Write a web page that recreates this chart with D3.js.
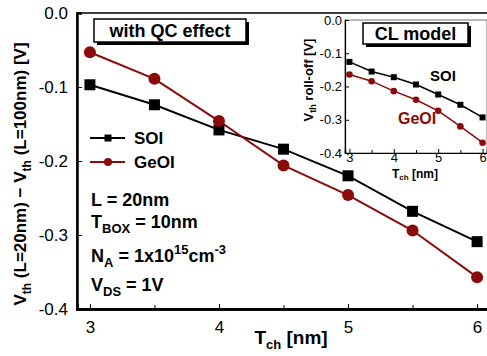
<!DOCTYPE html>
<html>
<head>
<meta charset="utf-8">
<script src="https://cdn.jsdelivr.net/npm/d3@7"></script>
<style>
  html, body { margin: 0; padding: 0; background: #fff; }
  svg { display: block; font-family: "Liberation Sans", Arial, sans-serif; }
</style>
</head>
<body>
<div id="chart"></div>
<script>
// channel thickness values
const tch = [3, 3.5, 4, 4.5, 5, 5.5, 6];

// main plot: with QC effect
const soiQC = [-0.097, -0.124, -0.158, -0.184, -0.220, -0.268, -0.309];
const geoiQC = [-0.053, -0.089, -0.146, -0.206, -0.246, -0.294, -0.357];

// inset: CL model
const soiCL = [-0.126, -0.155, -0.172, -0.194, -0.224, -0.255, -0.293];
const geoiCL = [-0.164, -0.184, -0.214, -0.240, -0.273, -0.320, -0.369];

const xTicks = [3, 4, 5, 6];
const xMinorTicks = [3.5, 4.5, 5.5];
const yTicks = [0, -0.1, -0.2, -0.3, -0.4];

const RED = '#8b0a0a';
const W = 487, H = 356;

// plain hyphen, like the original figure
const yFmt = d => d3.format('.1f')(d).replace('\u2212', '-');

const svg = d3.select('#chart').append('svg')
  .attr('width', W)
  .attr('height', H);

// ---------- main plot ----------
const x = d3.scaleLinear().domain([2.9, 6.1]).range([77, 490]);
const y = d3.scaleLinear().domain([-0.4, 0]).range([309, 13]);

// frame
svg.append('rect')
  .attr('x', x(2.9)).attr('y', y(0))
  .attr('width', x(6.1) - x(2.9)).attr('height', y(-0.4) - y(0))
  .attr('fill', 'none').attr('stroke', '#000').attr('stroke-width', 1.5);

const xAxis = svg.append('g')
  .attr('transform', `translate(0,${y(-0.4)})`)
  .call(d3.axisBottom(x).tickValues(xTicks).tickSize(-5).tickPadding(12).tickFormat(d3.format('d')));
xAxis.append('g').call(d3.axisBottom(x).tickValues(xMinorTicks).tickSize(-4).tickFormat(''));
xAxis.selectAll('.domain').attr('stroke-width', 2.5);

const yAxis = svg.append('g')
  .attr('transform', `translate(${x(2.9)},0)`)
  .call(d3.axisLeft(y).tickValues(yTicks).tickSize(-5).tickPadding(9).tickFormat(yFmt));
yAxis.selectAll('.domain').attr('stroke-width', 2.5);

svg.selectAll('.tick text')
  .attr('font-size', 17)
  .attr('font-family', '"Liberation Sans", Arial, sans-serif')
  .attr('fill', '#000');
svg.selectAll('.tick line').attr('stroke', '#000').attr('stroke-width', 1);

// axis titles
const xt = svg.append('text')
  .attr('x', 291).attr('y', 344)
  .attr('text-anchor', 'middle')
  .attr('font-size', 19).attr('font-weight', 'bold');
xt.append('tspan').text('T');
xt.append('tspan').attr('font-size', 13).attr('dy', 5).text('ch');
xt.append('tspan').attr('dy', -5).text(' [nm]');

const yt = svg.append('text')
  .attr('transform', `translate(26,${174}) rotate(-90)`)
  .attr('text-anchor', 'middle')
  .attr('font-size', 17).attr('font-weight', 'bold');
yt.append('tspan').text('V');
yt.append('tspan').attr('font-size', 12).attr('dy', 5).text('th');
yt.append('tspan').attr('dy', -5).text(' (L=20nm) \u2212 V');
yt.append('tspan').attr('font-size', 12).attr('dy', 5).text('th');
yt.append('tspan').attr('dy', -5).text(' (L=100nm) [V]');

// series
const line = d3.line().x((d, i) => x(tch[i])).y(d => y(d));
const mainG = svg.append('g');

mainG.append('path').datum(soiQC)
  .attr('d', line).attr('fill', 'none').attr('stroke', '#000').attr('stroke-width', 2);
mainG.append('path').datum(geoiQC)
  .attr('d', line).attr('fill', 'none').attr('stroke', RED).attr('stroke-width', 2);

mainG.selectAll('rect.soi').data(soiQC).enter().append('rect')
  .attr('class', 'soi')
  .attr('x', (d, i) => x(tch[i]) - 5.5).attr('y', d => y(d) - 5.5)
  .attr('width', 11).attr('height', 11).attr('fill', '#000');
mainG.selectAll('circle.geoi').data(geoiQC).enter().append('circle')
  .attr('class', 'geoi')
  .attr('cx', (d, i) => x(tch[i])).attr('cy', d => y(d))
  .attr('r', 6).attr('fill', RED);

// legend
const legend = svg.append('g');
[['SOI', '#000', 138, 'sq'], ['GeOI', RED, 162, 'ci']].forEach(([name, col, ly, m]) => {
  legend.append('line').attr('x1', 90).attr('x2', 125).attr('y1', ly).attr('y2', ly)
    .attr('stroke', col).attr('stroke-width', 2);
  if (m === 'sq') {
    legend.append('rect').attr('x', 104.5).attr('y', ly - 3.5).attr('width', 7).attr('height', 7).attr('fill', col);
  } else {
    legend.append('circle').attr('cx', 108).attr('cy', ly).attr('r', 4).attr('fill', col);
  }
  legend.append('text').attr('x', 134).attr('y', ly + 6)
    .attr('font-size', 17).attr('font-weight', 'bold').attr('fill', '#000').text(name);
});

// parameter annotations
const ann = svg.append('g').attr('font-size', 18).attr('font-weight', 'bold');
ann.append('text').attr('x', 91).attr('y', 206).text('L = 20nm');
const t2 = ann.append('text').attr('x', 91).attr('y', 228);
t2.append('tspan').text('T');
t2.append('tspan').attr('font-size', 13).attr('dy', 5).text('BOX');
t2.append('tspan').attr('dy', -5).text(' = 10nm');
const t3 = ann.append('text').attr('x', 91).attr('y', 262);
t3.append('tspan').text('N');
t3.append('tspan').attr('font-size', 13).attr('dy', 5).text('A');
t3.append('tspan').attr('dy', -5).text(' = 1x10');
t3.append('tspan').attr('font-size', 13).attr('dy', -8).text('15');
t3.append('tspan').attr('dy', 8).text('cm');
t3.append('tspan').attr('font-size', 13).attr('dy', -8).text('-3');
const t4 = ann.append('text').attr('x', 91).attr('y', 291);
t4.append('tspan').text('V');
t4.append('tspan').attr('font-size', 13).attr('dy', 5).text('DS');
t4.append('tspan').attr('dy', -5).text(' = 1V');

// shadowed label box
function shadowBox(bx, by, bw, bh, label, fs) {
  svg.append('rect').attr('x', bx + 3).attr('y', by + 3).attr('width', bw).attr('height', bh).attr('fill', '#000');
  svg.append('rect').attr('x', bx).attr('y', by).attr('width', bw).attr('height', bh)
    .attr('fill', '#fff').attr('stroke', '#000').attr('stroke-width', 1.5);
  svg.append('text').attr('x', bx + bw / 2).attr('y', by + bh / 2 + fs * 0.36)
    .attr('text-anchor', 'middle').attr('font-size', fs).attr('font-weight', 'bold').text(label);
}
shadowBox(94, 19, 152, 23, 'with QC effect', 18);

// ---------- inset ----------
const ix = d3.scaleLinear().domain([2.9, 6.1]).range([345, 487]);
const iy = d3.scaleLinear().domain([-0.4, 0]).range([153, 20]);

svg.append('rect')
  .attr('x', ix(2.9)).attr('y', iy(0))
  .attr('width', ix(6.1) - ix(2.9)).attr('height', iy(-0.4) - iy(0))
  .attr('fill', '#fff').attr('stroke', '#555').attr('stroke-width', 0.8);

const ixAxis = svg.append('g')
  .attr('transform', `translate(0,${iy(-0.4)})`)
  .call(d3.axisBottom(ix).tickValues(xTicks).tickSize(-4).tickPadding(0).tickFormat(d3.format('d')));
ixAxis.append('g').call(d3.axisBottom(ix).tickValues(xMinorTicks).tickSize(-3).tickFormat(''));
const iyAxis = svg.append('g')
  .attr('transform', `translate(${ix(2.9)},0)`)
  .call(d3.axisLeft(iy).tickValues(yTicks).tickSize(-4).tickPadding(3).tickFormat(yFmt));
[ixAxis, iyAxis].forEach(a => {
  a.selectAll('.domain').attr('stroke', '#000').attr('stroke-width', 1.2);
  a.selectAll('.tick line').attr('stroke', '#000');
  a.selectAll('.tick text').attr('font-size', 13)
    .attr('font-family', '"Liberation Sans", Arial, sans-serif').attr('fill', '#000');
});
ixAxis.selectAll('.tick text').attr('dy', '0.66em');

const ixt = svg.append('text')
  .attr('x', 415).attr('y', 178)
  .attr('text-anchor', 'middle')
  .attr('font-size', 12).attr('font-weight', 'bold');
ixt.append('tspan').text('T');
ixt.append('tspan').attr('font-size', 8).attr('dy', 2).text('ch');
ixt.append('tspan').attr('dy', -2).text(' [nm]');

const iyt = svg.append('text')
  .attr('transform', `translate(313,${80}) rotate(-90)`)
  .attr('text-anchor', 'middle')
  .attr('font-size', 13).attr('font-weight', 'bold');
iyt.append('tspan').text('V');
iyt.append('tspan').attr('font-size', 9).attr('dy', 3).text('th');
iyt.append('tspan').attr('dy', -3).text(' roll-off [V]');

const iline = d3.line().x((d, i) => ix(tch[i])).y(d => iy(d));
svg.append('path').datum(soiCL)
  .attr('d', iline).attr('fill', 'none').attr('stroke', '#000').attr('stroke-width', 1.5);
svg.append('path').datum(geoiCL)
  .attr('d', iline).attr('fill', 'none').attr('stroke', RED).attr('stroke-width', 1.5);
svg.selectAll('rect.isoi').data(soiCL).enter().append('rect')
  .attr('class', 'isoi')
  .attr('x', (d, i) => ix(tch[i]) - 3).attr('y', d => iy(d) - 3)
  .attr('width', 6).attr('height', 6).attr('fill', '#000');
svg.selectAll('circle.igeoi').data(geoiCL).enter().append('circle')
  .attr('class', 'igeoi')
  .attr('cx', (d, i) => ix(tch[i])).attr('cy', d => iy(d))
  .attr('r', 3.3).attr('fill', RED);

svg.append('text').attr('x', 430).attr('y', 81)
  .attr('font-size', 15).attr('font-weight', 'bold').attr('fill', '#000').text('SOI');
svg.append('text').attr('x', 398).attr('y', 124)
  .attr('font-size', 16).attr('font-weight', 'bold').attr('fill', RED).text('GeOI');

shadowBox(363, 23, 105, 21, 'CL model', 18);
</script>
</body>
</html>
